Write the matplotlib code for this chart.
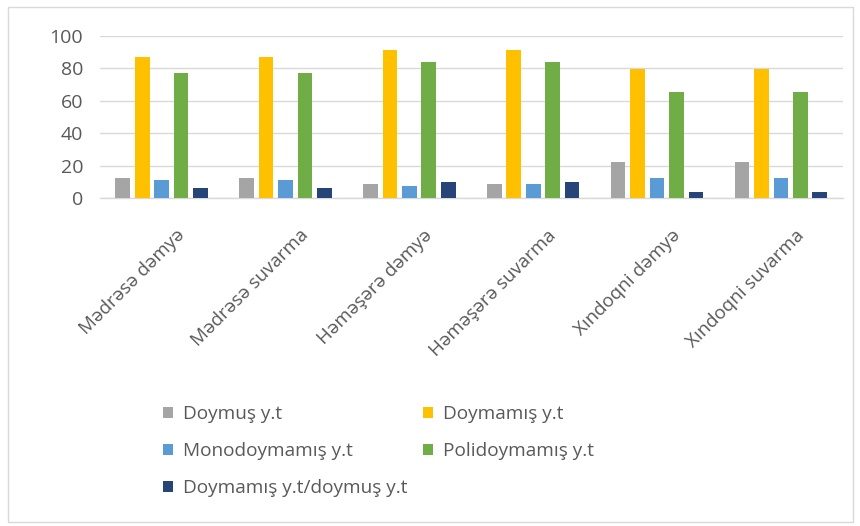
import matplotlib.pyplot as plt
import matplotlib.transforms as mtransforms
from matplotlib.patches import Rectangle
import numpy as np

plt.rcParams['font.family'] = ['Open Sans', 'DejaVu Sans']

categories = ['Mədrəsə dəmyə', 'Mədrəsə suvarma', 'Həməşərə dəmyə',
              'Həməşərə suvarma', 'Xındoqni dəmyə', 'Xındoqni suvarma']
series_names = ['Doymuş y.t', 'Doymamış y.t', 'Monodoymamış y.t',
                'Polidoymamış y.t', 'Doymamış y.t/doymuş y.t']
doymus = [12.5, 12.5, 9.0, 9.0, 22.5, 22.5]
doymamis = [86.8, 86.8, 91.5, 91.5, 79.5, 79.5]
mono = [11.2, 11.2, 7.6, 9.0, 12.5, 12.5]
poli = [76.8, 76.8, 84.0, 84.0, 65.7, 65.7]
ratio = [6.5, 6.5, 10.2, 10.2, 3.9, 3.9]
yticks = [0, 20, 40, 60, 80, 100]

colors = ['#A5A5A5', '#FFC000', '#5B9BD5', '#70AD47', '#264478']
values = [doymus, doymamis, mono, poli, ratio]

fig = plt.figure(figsize=(8.6, 5.26), dpi=100)
ax = fig.add_axes([0.116, 0.623, 0.864, 0.309])

x = np.arange(len(categories))
step = 0.157
width = 0.118
bars = []
for i, (vals, col, name) in enumerate(zip(values, colors, series_names)):
    b = ax.bar(x + (i - 2) * step, vals, width, color=col, label=name, zorder=3)
    bars.append(b)

ax.set_xlim(-0.5, len(categories) - 0.5)
ax.set_ylim(0, 100)
ax.set_yticks(yticks)
ax.yaxis.grid(True, color='#D9D9D9', linewidth=1, zorder=0)
for s in ['top', 'right', 'left']:
    ax.spines[s].set_visible(False)
ax.spines['bottom'].set_color('#D9D9D9')
ax.spines['bottom'].set_linewidth(1)
ax.tick_params(axis='both', length=0, colors='#595959', labelsize=14)
ax.tick_params(axis='y', pad=12)
ax.set_xticks(x)
ax.set_xticklabels(categories, rotation=45, ha='right', rotation_mode='anchor',
                   fontsize=13.5, color='#595959')
# shift rotated labels so they end near the group centre like the original
offset = mtransforms.ScaledTranslation(0.14, -0.23, fig.dpi_scale_trans)
for lab in ax.get_xticklabels():
    lab.set_transform(lab.get_transform() + offset)

order = [0, 2, 4, 1, 3]
handles = [bars[i] for i in order]
labels = [series_names[i] for i in order]
leg = fig.legend(handles, labels, ncol=2, loc='upper left',
                 bbox_to_anchor=(0.17, 0.262), frameon=False,
                 fontsize=13.7, labelcolor='#595959',
                 handlelength=0.5, handleheight=0.5, handletextpad=0.55,
                 labelspacing=1.0, columnspacing=0.8)

fig.patches.append(Rectangle((0.009, 0.008), 0.983, 0.979, transform=fig.transFigure,
                             fill=False, edgecolor='#D9D9D9', linewidth=1))

fig.savefig('out.png', dpi=100)
